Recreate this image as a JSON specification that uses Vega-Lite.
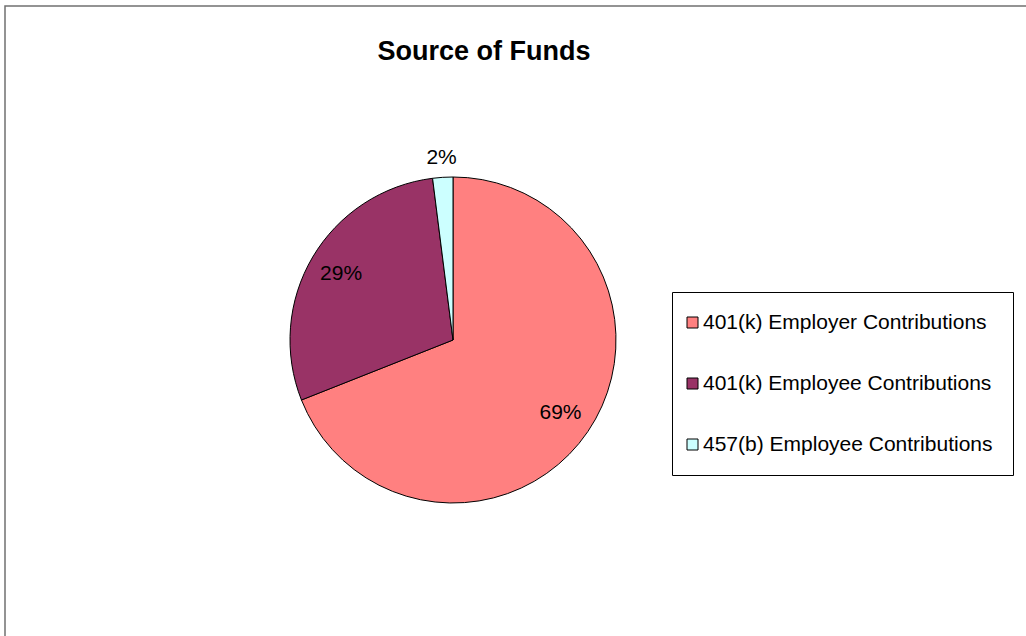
{
  "$schema": "https://vega.github.io/schema/vega-lite/v6.json",
  "autosize": "none",
  "width": 1030,
  "height": 640,
  "padding": {"left": 5, "top": 6, "right": 0, "bottom": 0},
  "background": "white",
  "view": {"stroke": "#707070", "strokeWidth": 1.5},
  "config": {
    "view": {"stroke": "#707070", "strokeWidth": 1.5},
    "font": "Liberation Sans"
  },
  "title": {
    "text": "Source of Funds",
    "font": "Liberation Sans",
    "fontSize": 27,
    "fontWeight": "bold",
    "color": "black",
    "anchor": "middle",
    "baseline": "alphabetic",
    "dx": -36,
    "offset": -81
  },
  "data": {
    "values": [
      {"source": "401(k) Employer Contributions", "share": 0.69, "order": 1},
      {"source": "401(k) Employee Contributions", "share": 0.29, "order": 2},
      {"source": "457(b) Employee Contributions", "share": 0.02, "order": 3}
    ]
  },
  "encoding": {
    "theta": {"field": "share", "type": "quantitative", "stack": true},
    "order": {"field": "order", "type": "quantitative"}
  },
  "layer": [
    {
      "mark": {"type": "arc", "x": 448, "y": 334, "outerRadius": 163, "stroke": "black", "strokeWidth": 1},
      "encoding": {
        "color": {
          "field": "source",
          "type": "nominal",
          "scale": {
            "domain": ["401(k) Employer Contributions", "401(k) Employee Contributions", "457(b) Employee Contributions"],
            "range": ["#FF8080", "#993366", "#CCFFFF"]
          },
          "legend": {
            "title": null,
            "orient": "none",
            "legendX": 667,
            "legendY": 286,
            "strokeColor": "black",
            "padding": 20,
            "symbolOffset": -10,
            "symbolType": "square",
            "symbolSize": 121,
            "symbolStrokeColor": "black",
            "symbolStrokeWidth": 1,
            "symbolOpacity": 1,
            "labelFont": "Liberation Sans",
            "labelFontSize": 21,
            "labelColor": "black",
            "labelLimit": 400,
            "labelOffset": 0,
            "rowPadding": 39
          }
        }
      }
    },
    {
      "mark": {"type": "text", "x": 448, "y": 334, "radius": 130, "fontSize": 21, "font": "Liberation Sans", "color": "black"},
      "encoding": {
        "text": {"field": "share", "type": "quantitative", "format": ".0%"},
        "opacity": {"condition": {"test": "datum.share >= 0.05", "value": 1}, "value": 0}
      }
    },
    {
      "mark": {"type": "text", "x": 448, "y": 334, "radius": 182, "fontSize": 21, "font": "Liberation Sans", "color": "black"},
      "encoding": {
        "text": {"field": "share", "type": "quantitative", "format": ".0%"},
        "opacity": {"condition": {"test": "datum.share < 0.05", "value": 1}, "value": 0}
      }
    }
  ]
}
